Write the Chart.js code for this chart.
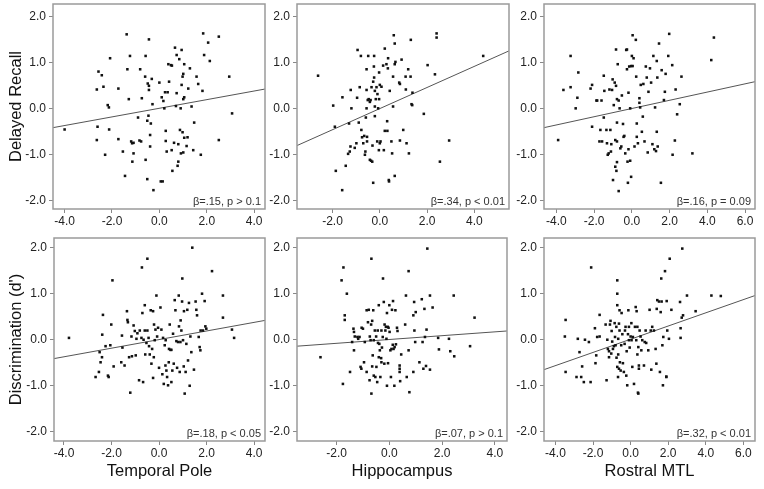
<!DOCTYPE html>
<html>
<head>
<meta charset="utf-8">
<script src="https://cdn.jsdelivr.net/npm/chart.js@4.4.0/dist/chart.umd.min.js"></script>
<style>
  html, body { margin: 0; padding: 0; background: #fff; }
  #wrap { position: relative; width: 764px; height: 489px; overflow: hidden; }
  #wrap canvas { position: absolute; }
</style>
</head>
<body>
<div id="wrap"></div>
<script>
// -------------------------
// Data (x = region score, y = memory score)
// -------------------------
const xTitles = ["Temporal Pole", "Hippocampus", "Rostral MTL"];
const yTitles = ["Delayed Recall", "Discrimination (d')"];
const stats = [
  "β=.15, p > 0.1", "β=.34, p < 0.01", "β=.16, p = 0.09",
  "β=.18, p < 0.05", "β=.07, p > 0.1", "β=.32, p < 0.01"
];

const recallTemporal = [[-4.0,-0.46],[-2.64,0.41],[-2.61,-0.40],[-2.64,-0.69],[-2.57,0.80],[-2.43,0.72],[-2.36,0.47],[-2.29,-1.01],[-2.18,0.07],[-2.13,0.02],[-2.12,-0.46],[-2.08,1.09],[-1.73,0.43],[-1.73,-0.67],[-1.54,-0.94],[-1.45,-1.47],[-1.38,1.61],[-1.35,0.85],[-1.29,0.20],[-1.24,1.14],[-1.19,-0.72],[-1.15,-0.76],[-1.14,-1.16],[-1.09,-0.98],[-1.09,-0.75],[-0.81,0.85],[-0.74,0.22],[-0.84,-0.70],[-0.77,-0.72],[-0.90,-0.20],[-0.60,0.69],[-0.58,1.14],[-0.58,-1.12],[-0.51,-1.54],[-0.49,0.54],[-0.44,0.49],[-0.44,1.50],[-0.46,-0.16],[-0.51,-0.27],[-0.44,0.40],[-0.39,-0.58],[-0.39,-0.83],[-0.36,-0.33],[-0.32,0.64],[-0.29,0.09],[-0.25,-1.78],[0.0,0.56],[0.06,-1.59],[0.14,-1.59],[0.10,0.24],[0.17,0.16],[0.21,0.0],[0.24,0.35],[0.27,-0.49],[0.27,-0.71],[0.31,-0.94],[0.35,0.35],[0.41,0.58],[0.38,0.96],[0.49,0.94],[0.53,0.93],[0.52,-0.91],[0.55,-1.36],[0.66,1.32],[0.62,-0.75],[0.70,0.05],[0.73,0.33],[0.73,1.16],[0.80,-0.78],[0.80,-1.16],[0.77,-1.25],[0.84,1.07],[0.87,-0.47],[0.90,0.0],[0.91,-0.98],[0.94,1.27],[0.94,0.51],[0.98,-0.52],[0.98,0.69],[1.01,0.20],[1.05,0.24],[1.01,0.75],[1.01,-0.96],[1.05,0.96],[1.05,-0.64],[1.15,-0.82],[1.19,-0.63],[1.22,0.43],[1.29,0.87],[1.36,0.04],[1.43,-0.91],[1.47,-0.31],[1.57,0.69],[1.64,0.53],[1.75,-1.01],[1.82,0.38],[1.85,1.63],[1.89,1.16],[2.06,1.43],[2.13,1.03],[2.51,1.56],[2.51,-0.69],[2.95,0.69],[3.07,-0.11]];

const recallHippo = [[-2.61,0.71],[-1.97,0.06],[-1.90,-0.40],[-1.86,-1.36],[-1.59,-1.78],[-1.58,0.24],[-1.44,-1.25],[-1.34,-0.99],[-1.30,-0.33],[-1.27,-0.94],[-1.24,-0.83],[-1.23,0.40],[-1.20,0.0],[-1.06,-0.86],[-0.99,-0.76],[-0.96,0.23],[-0.94,1.27],[-0.89,-0.31],[-0.85,0.46],[-0.80,1.14],[-0.78,-0.47],[-0.75,-0.63],[-0.70,-0.76],[-0.66,-0.60],[-0.63,-1.01],[-0.61,-0.94],[-0.59,-0.20],[-0.56,0.0],[-0.56,0.40],[-0.56,0.85],[-0.54,-0.62],[-0.54,-0.72],[-0.51,0.18],[-0.49,1.14],[-0.47,0.20],[-0.42,0.14],[-0.42,-1.12],[-0.39,0.18],[-0.37,-1.14],[-0.35,0.46],[-0.32,-1.16],[-0.31,-0.81],[-0.28,0.58],[-0.28,-1.62],[-0.25,0.91],[-0.24,0.67],[-0.24,1.14],[-0.21,0.38],[-0.21,-0.17],[-0.21,0.04],[-0.17,0.20],[-0.14,0.46],[-0.11,-0.72],[-0.10,0.31],[-0.07,0.0],[-0.04,-0.91],[-0.03,0.20],[-0.03,0.78],[0.0,0.51],[0.0,-0.76],[0.03,-0.72],[0.07,0.47],[0.14,0.93],[0.17,-0.91],[0.21,1.30],[0.21,-0.49],[0.28,0.96],[0.31,-0.28],[0.32,-0.49],[0.34,0.87],[0.35,1.09],[0.38,-1.56],[0.39,-1.59],[0.42,0.38],[0.49,-0.72],[0.52,-0.98],[0.56,0.04],[0.56,0.69],[0.59,1.59],[0.63,-1.47],[0.63,1.41],[0.63,0.96],[0.66,1.01],[0.82,0.56],[0.85,0.53],[0.85,-0.70],[0.92,1.06],[0.99,-0.47],[1.09,0.69],[1.10,0.41],[1.13,-0.76],[1.20,0.85],[1.23,-0.98],[1.30,0.69],[1.31,1.49],[1.34,0.09],[1.37,0.07],[1.38,0.34],[1.86,-0.12],[2.02,0.94],[2.33,0.74],[2.40,1.63],[2.40,1.54],[2.54,-1.16],[2.93,-0.70],[4.37,1.14]];

const recallRostral = [[-3.91,-0.69],[-3.63,0.40],[-3.25,0.46],[-3.25,1.14],[-2.98,0.0],[-2.89,0.23],[-2.84,0.78],[-2.19,0.43],[-2.11,0.51],[-2.11,-0.40],[-1.88,0.17],[-1.84,0.17],[-1.72,-0.72],[-1.67,-0.47],[-1.61,0.17],[-1.58,-0.72],[-1.49,0.71],[-1.46,0.38],[-1.49,-0.20],[-1.35,-0.47],[-1.32,-0.76],[-1.28,-1.01],[-1.23,-0.98],[-1.19,0.41],[-1.14,-0.47],[-1.11,-0.94],[-1.09,-0.78],[-1.05,0.40],[-1.02,0.63],[-1.00,-1.56],[-0.96,0.07],[-0.91,0.56],[-0.88,-1.27],[-0.88,-0.69],[-0.84,1.28],[-0.84,0.49],[-0.82,-1.36],[-0.79,-0.31],[-0.79,-1.17],[-0.79,0.20],[-0.79,-0.72],[-0.75,0.96],[-0.70,0.17],[-0.70,-1.80],[-0.65,0.0],[-0.61,-0.87],[-0.56,-0.83],[-0.53,0.28],[-0.47,-0.34],[-0.44,-0.62],[-0.40,-0.60],[-0.35,-0.98],[-0.30,1.27],[-0.26,1.28],[-0.26,0.85],[-0.23,-1.16],[-0.21,-1.62],[-0.18,0.34],[-0.18,-0.89],[-0.14,0.91],[-0.09,0.0],[-0.09,-1.14],[-0.04,0.92],[-0.04,-1.49],[0.0,1.14],[0.04,1.59],[0.04,0.92],[0.09,1.09],[0.14,-0.83],[0.21,1.49],[0.23,0.69],[0.26,-0.33],[0.26,-0.62],[0.32,-0.76],[0.40,0.22],[0.40,0.12],[0.44,0.02],[0.47,0.51],[0.53,-0.51],[0.58,-0.18],[0.61,0.53],[0.67,-0.72],[0.74,0.91],[0.79,0.67],[0.84,-0.96],[0.88,0.36],[0.96,0.87],[1.02,0.56],[1.09,-0.78],[1.14,1.14],[1.19,-0.89],[1.23,0.02],[1.28,-0.93],[1.32,1.03],[1.32,-0.51],[1.35,0.67],[1.37,-0.83],[1.44,1.41],[1.54,-1.62],[1.58,0.83],[1.70,0.18],[1.75,0.36],[1.79,0.75],[1.93,1.14],[1.98,1.62],[2.14,0.94],[2.16,-1.01],[2.28,-0.70],[2.32,0.41],[2.40,-0.13],[2.54,0.09],[2.63,0.69],[3.21,-0.98],[4.21,1.05],[4.35,1.54]];

const discTemporal = [[-3.79,0.04],[-2.67,-0.81],[-2.53,-0.70],[-2.50,-0.27],[-2.46,-0.49],[-2.40,-0.38],[-2.36,0.54],[-2.39,0.11],[-2.25,-0.14],[-2.15,-0.78],[-2.12,-0.81],[-2.05,-0.12],[-2.01,0.33],[-1.96,1.29],[-1.91,-0.58],[-1.59,-0.49],[-1.56,0.09],[-1.54,-0.17],[-1.45,-0.56],[-1.35,0.62],[-1.33,0.43],[-1.31,0.38],[-1.26,-0.38],[-1.21,-1.15],[-1.16,0.07],[-1.14,-0.36],[-1.07,0.31],[-1.02,0.19],[-0.98,-0.34],[-0.95,0.02],[-0.91,0.14],[-0.84,-0.88],[-0.81,0.20],[-0.74,0.04],[-0.72,1.57],[-0.70,0.58],[-0.67,-0.92],[-0.65,0.0],[-0.60,0.20],[-0.60,0.75],[-0.58,-0.32],[-0.53,-0.07],[-0.49,1.76],[-0.49,0.20],[-0.44,0.04],[-0.42,-0.14],[-0.39,-0.32],[-0.35,0.64],[-0.32,-0.52],[-0.29,-0.20],[-0.25,0.62],[-0.25,-0.83],[-0.22,-0.38],[-0.21,0.33],[-0.18,-0.01],[-0.15,0.22],[-0.11,0.96],[-0.08,0.07],[-0.04,0.26],[0.0,-0.61],[0.06,0.70],[0.10,0.22],[0.14,-0.75],[0.17,0.04],[0.20,-0.96],[0.24,-0.12],[0.27,-0.56],[0.28,-0.01],[0.31,-0.67],[0.34,-0.81],[0.38,-0.99],[0.41,-0.49],[0.42,-0.20],[0.45,0.33],[0.48,-0.22],[0.52,-0.92],[0.52,-0.22],[0.56,-0.67],[0.59,0.13],[0.62,-0.52],[0.66,0.86],[0.69,0.64],[0.73,-0.03],[0.76,-0.61],[0.80,-0.05],[0.83,0.96],[0.84,0.29],[0.87,-0.70],[0.90,-0.05],[0.91,0.42],[0.94,0.20],[0.97,0.83],[0.98,1.33],[1.01,-0.01],[1.04,-0.58],[1.05,0.62],[1.08,-1.17],[1.12,-0.70],[1.15,-0.09],[1.19,0.65],[1.22,-0.45],[1.26,0.80],[1.29,-1.0],[1.32,0.07],[1.36,-0.27],[1.40,2.0],[1.47,-0.65],[1.54,0.83],[1.57,0.65],[1.60,0.53],[1.67,0.06],[1.71,-0.16],[1.74,-0.23],[1.75,0.20],[1.81,1.0],[1.85,0.20],[1.92,0.84],[1.95,0.29],[1.99,0.24],[2.23,1.49],[2.69,0.96],[2.69,0.48],[3.07,0.22],[3.16,0.04]];

const discHippo = [[-2.61,-0.38],[-1.81,1.29],[-1.74,1.57],[-1.76,-0.96],[-1.69,0.53],[-1.69,0.43],[-1.61,1.0],[-1.49,-0.70],[-1.41,-0.05],[-1.36,0.24],[-1.34,0.17],[-1.34,-0.23],[-1.31,0.07],[-1.21,0.06],[-1.18,0.02],[-1.13,0.06],[-1.09,-0.59],[-1.06,-0.63],[-1.05,0.26],[-1.0,0.24],[-0.96,-0.49],[-0.93,-0.05],[-0.86,0.64],[-0.86,-0.70],[-0.81,0.38],[-0.78,0.65],[-0.75,-0.88],[-0.74,0.07],[-0.71,-0.01],[-0.69,0.33],[-0.68,1.76],[-0.68,-1.17],[-0.65,-0.58],[-0.65,0.41],[-0.63,-0.34],[-0.61,0.64],[-0.59,-0.01],[-0.59,-0.78],[-0.55,0.20],[-0.53,-0.81],[-0.50,0.07],[-0.49,-0.59],[-0.46,-0.92],[-0.44,0.20],[-0.43,-0.07],[-0.40,-0.38],[-0.40,0.75],[-0.38,-0.09],[-0.36,-0.23],[-0.34,-0.81],[-0.31,-0.40],[-0.30,0.20],[-0.30,-0.49],[-0.28,-0.17],[-0.25,0.06],[-0.24,1.33],[-0.21,0.82],[-0.19,-0.52],[-0.18,0.33],[-0.15,0.20],[-0.13,0.28],[-0.11,0.02],[-0.09,-1.0],[-0.09,0.58],[-0.06,0.28],[-0.05,-0.51],[-0.03,0.26],[0.0,0.75],[0.01,0.17],[0.04,-0.23],[0.06,-0.81],[0.08,-0.20],[0.10,0.65],[0.13,-0.11],[0.14,0.84],[0.16,-0.20],[0.19,-1.0],[0.20,-0.16],[0.23,0.64],[0.25,-0.10],[0.29,0.26],[0.31,0.19],[0.39,-0.56],[0.39,-0.63],[0.39,-0.70],[0.41,-0.90],[0.45,-0.32],[0.60,0.33],[0.63,0.96],[0.66,-0.81],[0.73,1.49],[0.73,-0.23],[0.76,-1.14],[0.91,-0.70],[0.91,0.53],[0.94,0.82],[0.95,0.20],[0.98,-0.05],[1.0,0.60],[1.14,-0.49],[1.23,0.88],[1.26,-0.05],[1.29,-0.63],[1.33,0.67],[1.35,0.06],[1.39,-0.57],[1.41,0.22],[1.44,1.98],[1.54,-0.65],[1.54,0.96],[1.64,0.70],[1.85,0.04],[1.88,-0.21],[2.26,0.02],[2.31,-0.25],[2.44,0.96],[2.46,-0.36],[3.06,-0.14],[3.23,0.48]];

const discRostral = [[-3.50,0.07],[-3.46,0.43],[-3.46,-0.70],[-2.88,-0.81],[-2.81,0.02],[-2.72,-0.27],[-2.63,-0.81],[-2.58,-0.58],[-2.49,-0.92],[-2.43,0.0],[-2.22,-0.05],[-2.13,-0.92],[-2.10,1.57],[-1.90,0.25],[-1.87,-0.51],[-1.83,-0.34],[-1.78,0.06],[-1.65,0.07],[-1.65,0.54],[-1.33,0.33],[-1.28,-0.88],[-1.24,0.0],[-1.21,-0.20],[-1.15,-0.25],[-1.15,-0.38],[-1.10,0.33],[-1.07,0.41],[-1.03,-0.30],[-1.01,0.19],[-0.98,-0.04],[-0.94,-0.20],[-0.89,-0.14],[-0.85,0.36],[-0.83,0.06],[-0.80,-0.12],[-0.76,0.28],[-0.75,-0.39],[-0.71,1.0],[-0.71,0.75],[-0.71,1.29],[-0.71,-0.59],[-0.67,-0.81],[-0.66,0.02],[-0.66,-0.32],[-0.62,0.35],[-0.62,-0.63],[-0.59,0.20],[-0.59,0.64],[-0.57,-0.49],[-0.53,-0.67],[-0.50,-0.12],[-0.48,0.58],[-0.44,0.12],[-0.41,-0.51],[-0.36,-0.70],[-0.32,-0.09],[-0.30,0.20],[-0.27,0.28],[-0.23,-0.78],[-0.21,-0.25],[-0.18,-0.99],[-0.14,0.12],[-0.12,0.64],[-0.09,0.28],[-0.09,-0.01],[-0.05,-0.17],[0.0,0.07],[0.04,0.36],[0.05,-0.01],[0.09,-0.59],[0.12,0.06],[0.18,-0.96],[0.23,0.28],[0.27,0.71],[0.30,-0.01],[0.32,0.62],[0.36,0.28],[0.36,-0.32],[0.39,-1.15],[0.41,-1.17],[0.41,-0.16],[0.44,-0.56],[0.44,-0.63],[0.48,0.20],[0.53,0.07],[0.57,-0.23],[0.62,-0.01],[0.71,-0.56],[0.75,-0.05],[0.80,0.20],[0.83,-0.07],[0.94,-0.23],[1.01,0.65],[1.07,0.20],[1.10,-0.65],[1.15,0.28],[1.24,0.20],[1.33,-0.20],[1.37,-0.52],[1.39,0.67],[1.42,0.86],[1.51,0.83],[1.56,-0.70],[1.60,0.60],[1.63,1.33],[1.65,0.83],[1.69,-0.12],[1.72,-0.99],[1.74,0.06],[1.83,1.49],[1.90,-0.80],[1.90,-0.81],[1.92,0.84],[1.95,0.20],[2.04,0.02],[2.08,1.76],[2.17,0.65],[2.63,0.82],[2.66,0.25],[2.66,0.04],[2.72,0.48],[2.79,0.53],[2.75,1.98],[3.0,0.96],[3.46,0.62],[4.30,0.96],[4.80,0.95]];

// regression line end points
const recallTemporalFit = [[-4.49,-0.42],[4.46,0.42]];
const recallHippoFit = [[-3.5,-0.81],[5.46,1.25]];
const recallRostralFit = [[-4.66,-0.42],[6.53,0.58]];
const discTemporalFit = [[-4.42,-0.41],[4.46,0.42]];
const discHippoFit = [[-3.5,-0.14],[4.46,0.19]];
const discRostralFit = [[-4.61,-0.65],[6.62,0.96]];

// -------------------------
// Panel layout
// -------------------------
const FONT = '"Liberation Sans", Arial, sans-serif';

const panels = [
  { pts: recallTemporal, fit: recallTemporalFit, box: {l: 53, r: 265, t: 4, b: 209}, x: [-4.49, 4.46], y: [-2.19, 2.27] },
  { pts: recallHippo, fit: recallHippoFit, box: {l: 297, r: 509, t: 4, b: 209}, x: [-3.5, 5.46], y: [-2.19, 2.27] },
  { pts: recallRostral, fit: recallRostralFit, box: {l: 544, r: 755, t: 4, b: 209}, x: [-4.66, 6.53], y: [-2.19, 2.27] },
  { pts: discTemporal, fit: discTemporalFit, box: {l: 54, r: 265, t: 238, b: 441}, x: [-4.42, 4.46], y: [-2.2, 2.21] },
  { pts: discHippo, fit: discHippoFit, box: {l: 297, r: 507, t: 238, b: 441}, x: [-3.5, 4.46], y: [-2.2, 2.21] },
  { pts: discRostral, fit: discRostralFit, box: {l: 544, r: 755, t: 238, b: 441}, x: [-4.61, 6.62], y: [-2.2, 2.21] }
];

// frame around the plot area + beta/p note
const panelFrame = {
  id: 'panelFrame',
  afterDraw(chart, args, opts) {
    const { ctx, chartArea: a } = chart;
    ctx.save();
    ctx.strokeStyle = '#9a9a9a';
    ctx.lineWidth = 1.5;
    ctx.strokeRect(a.left, a.top, a.right - a.left, a.bottom - a.top);
    ctx.fillStyle = '#333';
    ctx.font = '11px ' + FONT;
    ctx.textAlign = 'right';
    ctx.textBaseline = 'middle';
    ctx.fillText(opts.text, a.right - 4, a.bottom - 7);
    ctx.restore();
  }
};

const wrap = document.getElementById('wrap');

panels.forEach((p, i) => {
  const row = Math.floor(i / 3);
  const col = i % 3;
  const padL = col === 0 ? p.box.l : 45;
  const xAxisH = row === 1 ? 44 : 22;
  const w = padL + (p.box.r - p.box.l) + 12;
  const h = 4 + (p.box.b - p.box.t) + xAxisH;

  const canvas = document.createElement('canvas');
  canvas.width = w;
  canvas.height = h;
  canvas.style.left = (p.box.l - padL) + 'px';
  canvas.style.top = (p.box.t - 4) + 'px';
  wrap.appendChild(canvas);

  new Chart(canvas.getContext('2d'), {
    type: 'scatter',
    data: {
      datasets: [
        {
          data: p.pts.map(d => ({ x: d[0], y: d[1] })),
          pointStyle: 'rect',
          pointRadius: 1.8,
          backgroundColor: '#111',
          borderWidth: 0
        },
        {
          data: p.fit.map(d => ({ x: d[0], y: d[1] })),
          showLine: true,
          borderColor: '#555',
          borderWidth: 1,
          pointRadius: 0
        }
      ]
    },
    options: {
      responsive: false,
      animation: false,
      devicePixelRatio: 1,
      layout: { padding: { left: 0, right: 12, top: 4, bottom: 0 } },
      plugins: {
        legend: { display: false },
        tooltip: { enabled: false },
        panelFrame: { text: stats[i] }
      },
      scales: {
        x: {
          type: 'linear',
          min: p.x[0],
          max: p.x[1],
          border: { display: false },
          grid: { drawOnChartArea: false, drawTicks: true, tickLength: 4, tickColor: '#888' },
          ticks: {
            stepSize: 2,
            includeBounds: false,
            autoSkip: false,
            maxRotation: 0,
            padding: 1,
            color: '#222',
            font: { family: FONT, size: 12 },
            callback: v => v.toFixed(1)
          },
          title: {
            display: row === 1,
            text: xTitles[col],
            color: '#111',
            font: { family: FONT, size: 16.5 },
            padding: { top: 0, bottom: 4 }
          },
          afterFit: axis => {
            axis.height = xAxisH;
            axis.paddingLeft = 0;
            axis.paddingRight = 0;
          }
        },
        y: {
          type: 'linear',
          min: p.y[0],
          max: p.y[1],
          border: { display: false },
          grid: { drawOnChartArea: false, drawTicks: true, tickLength: 4, tickColor: '#888' },
          ticks: {
            stepSize: 1,
            includeBounds: false,
            autoSkip: false,
            padding: 3,
            color: '#222',
            font: { family: FONT, size: 12 },
            callback: v => v.toFixed(1)
          },
          title: {
            display: col === 0,
            text: yTitles[row],
            color: '#111',
            font: { family: FONT, size: 16.5 },
            padding: { top: 7, bottom: 0 }
          },
          afterFit: axis => {
            axis.width = padL;
            axis.paddingTop = 0;
            axis.paddingBottom = 0;
          }
        }
      }
    },
    plugins: [panelFrame]
  });
});
</script>
</body>
</html>
